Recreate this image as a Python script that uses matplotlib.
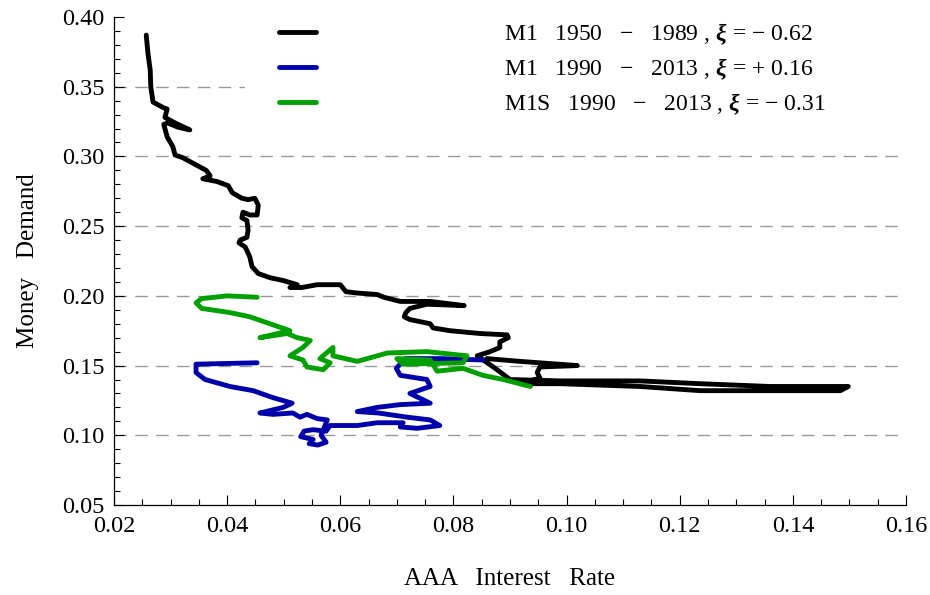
import matplotlib
matplotlib.use("Agg")
import matplotlib.pyplot as plt
from matplotlib.ticker import MultipleLocator, FormatStrFormatter

plt.rcParams['font.family'] = ['Liberation Serif', 'DejaVu Serif']
plt.rcParams['mathtext.fontset'] = 'custom'
plt.rcParams['mathtext.rm'] = 'Liberation Serif'
plt.rcParams['mathtext.it'] = 'Liberation Serif:italic'
plt.rcParams['mathtext.bf'] = 'Liberation Serif:bold:italic'

# ---- data ----
m1_early_rate = [0.0257, 0.0260, 0.0264, 0.0265, 0.0269, 0.0287, 0.0294, 0.0290, 0.0308, 0.0334,
                 0.0313, 0.0295, 0.0288, 0.0294, 0.0304, 0.0308, 0.0322, 0.0363, 0.0370, 0.0357,
                 0.0382, 0.0402, 0.0409, 0.0426, 0.0437, 0.0449, 0.0455, 0.0453, 0.0440, 0.0428,
                 0.0426, 0.0435, 0.0437, 0.0435, 0.0423, 0.0421, 0.0432, 0.0440, 0.0444, 0.0455,
                 0.0476, 0.0499, 0.0524, 0.0511, 0.0532, 0.0559, 0.0600, 0.0610, 0.0630, 0.0665,
                 0.0677, 0.0706, 0.0759, 0.0819, 0.0753, 0.0723, 0.0716, 0.0713, 0.0723, 0.0759,
                 0.0764, 0.0794, 0.0847, 0.0895, 0.0897, 0.0882, 0.0882, 0.0865, 0.0842, 0.0874,
                 0.0900, 0.0989, 0.1130, 0.1236, 0.1360, 0.1498, 0.1484, 0.1395, 0.1236, 0.1130,
                 0.1059, 0.0989, 0.0918, 0.0953, 0.0948, 0.0953, 0.1019, 0.0918, 0.0859]
m1_early_demand = [0.387, 0.374, 0.362, 0.350, 0.339, 0.335, 0.334, 0.328, 0.324, 0.319,
                   0.321, 0.324, 0.323, 0.314, 0.307, 0.301, 0.299, 0.290, 0.286, 0.284,
                   0.282, 0.279, 0.274, 0.270, 0.269, 0.270, 0.265, 0.258, 0.258, 0.260,
                   0.256, 0.254, 0.247, 0.242, 0.240, 0.238, 0.235, 0.228, 0.221, 0.216,
                   0.213, 0.211, 0.208, 0.206, 0.206, 0.208, 0.208, 0.203, 0.202, 0.201,
                   0.199, 0.196, 0.196, 0.193, 0.194, 0.191, 0.188, 0.185, 0.183, 0.180,
                   0.177, 0.175, 0.173, 0.172, 0.170, 0.167, 0.163, 0.160, 0.157, 0.148,
                   0.140, 0.139, 0.139, 0.137, 0.135, 0.135, 0.132, 0.132, 0.132, 0.135,
                   0.136, 0.137, 0.137, 0.141, 0.145, 0.149, 0.150, 0.153, 0.155]

m1_late_rate = [0.0852, 0.0776, 0.0715, 0.0699, 0.0706, 0.0753, 0.0759, 0.0723, 0.0759, 0.0706,
                0.0665, 0.0630, 0.0667, 0.0718, 0.0759, 0.0776, 0.0736, 0.0706, 0.0711, 0.0665,
                0.0630, 0.0582, 0.0575, 0.0552, 0.0536, 0.0530, 0.0552, 0.0545, 0.0560, 0.0575,
                0.0566, 0.0577, 0.0559, 0.0541, 0.0529, 0.0516, 0.0481, 0.0458, 0.0499, 0.0515,
                0.0481, 0.0446, 0.0405, 0.0361, 0.0345, 0.0345, 0.0453]
m1_late_demand = [0.154, 0.155, 0.155, 0.148, 0.143, 0.140, 0.135, 0.130, 0.123, 0.122,
                  0.120, 0.117, 0.116, 0.113, 0.111, 0.107, 0.105, 0.106, 0.109, 0.109,
                  0.107, 0.107, 0.103, 0.104, 0.103, 0.099, 0.097, 0.094, 0.093, 0.095,
                  0.100, 0.111, 0.112, 0.115, 0.113, 0.116, 0.115, 0.116, 0.120, 0.123,
                  0.127, 0.132, 0.135, 0.140, 0.145, 0.151, 0.152]

m1s_rate = [0.0453, 0.0400, 0.0355, 0.0345, 0.0355, 0.0405, 0.0440, 0.0511, 0.0458, 0.0506,
            0.0524, 0.0547, 0.0534, 0.0511, 0.0534, 0.0541, 0.0570, 0.0582, 0.0564, 0.0587,
            0.0587, 0.0630, 0.0683, 0.0753, 0.0824, 0.0817, 0.0711, 0.0700, 0.0759, 0.0771,
            0.0817, 0.0852, 0.0888, 0.0936]
m1s_demand = [0.199, 0.200, 0.198, 0.195, 0.191, 0.188, 0.185, 0.175, 0.170, 0.173,
              0.170, 0.168, 0.163, 0.157, 0.154, 0.149, 0.147, 0.152, 0.155, 0.163,
              0.157, 0.153, 0.159, 0.160, 0.157, 0.152, 0.151, 0.155, 0.154, 0.146,
              0.148, 0.143, 0.140, 0.135]

series_labels = [r'M1   1950   $-$   1989 , $\mathbf{\xi}$ = $-$ 0.62',
                 r'M1   1990   $-$   2013 , $\mathbf{\xi}$ = + 0.16',
                 r'M1S   1990   $-$   2013 , $\mathbf{\xi}$ = $-$ 0.31']
series_colors = ['#000000', '#0000AA', '#00A000']
x_label = 'AAA   Interest   Rate'
y_label = 'Money   Demand'
grid_levels = [0.10, 0.15, 0.20, 0.25, 0.30]
grid_level_under_legend = 0.35

# ---- figure ----
fig = plt.figure(figsize=(9.3, 5.95), dpi=100)
ax = fig.add_axes([114/930, 1 - 505/595, (906-114)/930, (505-17)/595])

for lv in grid_levels:
    ax.axhline(lv, color='#999999', lw=1.0, dashes=(9, 6), zorder=0)
ax.axhline(grid_level_under_legend, xmax=(245-114)/792, color='#999999', lw=1.0,
           dashes=(9, 6), zorder=0)

data = [(m1_early_rate, m1_early_demand), (m1_late_rate, m1_late_demand), (m1s_rate, m1s_demand)]
for (xs, ys), c, lab in zip(data, series_colors, series_labels):
    ax.plot(xs, ys, color=c, lw=3.5, label=lab, solid_joinstyle='round', solid_capstyle='round')

ax.set_xlim(0.02, 0.16)
ax.set_ylim(0.05, 0.40)
ax.xaxis.set_major_locator(MultipleLocator(0.02))
ax.xaxis.set_minor_locator(MultipleLocator(0.005))
ax.yaxis.set_major_locator(MultipleLocator(0.05))
ax.yaxis.set_minor_locator(MultipleLocator(0.01))
ax.xaxis.set_major_formatter(FormatStrFormatter('%.2f'))
ax.yaxis.set_major_formatter(FormatStrFormatter('%.2f'))
for s in ['top', 'right']:
    ax.spines[s].set_visible(False)
for s in ['left', 'bottom']:
    ax.spines[s].set_linewidth(0.9)
ax.tick_params(which='both', direction='in', top=False, right=False, labelsize=17.5, width=0.8)
ax.tick_params(which='major', length=7)
ax.tick_params(which='minor', length=4)
ax.tick_params(axis='x', which='major', pad=8)
ax.tick_params(axis='y', which='major', pad=7)

ax.set_xlabel(x_label, fontsize=18, labelpad=22)
ax.set_ylabel(y_label, fontsize=18, labelpad=16)

fs = 17
fpx = fs * 100 / 72
leg = ax.legend(loc='upper left', bbox_to_anchor=(245/930, (595+12)/595),
                bbox_transform=fig.transFigure, fontsize=fs, frameon=True,
                handlelength=37/fpx, handletextpad=188/fpx, borderpad=34/fpx,
                labelspacing=0.4, borderaxespad=0)
leg.get_frame().set_facecolor('white')
leg.get_frame().set_edgecolor('none')
leg.get_frame().set_alpha(1.0)
for h in leg.get_lines():
    h.set_linewidth(3.5)

fig.savefig('out.png', dpi=100)
